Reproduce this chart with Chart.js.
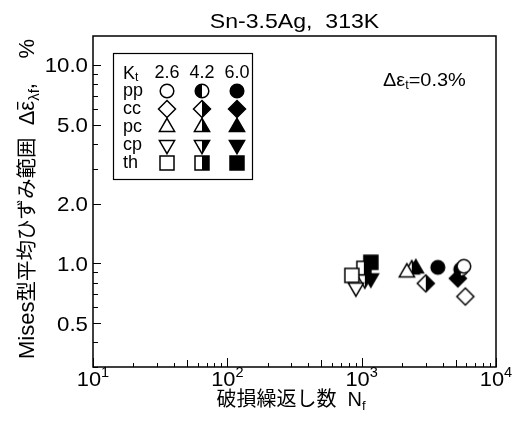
<!DOCTYPE html>
<html>
<head>
<meta charset="utf-8">
<script src="https://cdn.jsdelivr.net/npm/chart.js@4.4.1/dist/chart.umd.min.js"></script>
<style>
  html, body { margin: 0; padding: 0; background: #fff; }
  #wrap { width: 522px; height: 428px; }
</style>
</head>
<body>
<div id="wrap"><canvas id="chart"></canvas></div>
<script>
// stress concentration factors and test types
const ktLabels = ['2.6', '4.2', '6.0'];
const typeLabels = ['pp', 'cc', 'pc', 'cp', 'th'];
const typeShapes = ['circle', 'diamond', 'triUp', 'triDown', 'square'];

// cycles to failure Nf and Mises mean strain range (%), one value per Kt
const nfPP = [5760, 5470, 3690];
const dePP = [0.966, 0.932, 0.954];
const nfCC = [5910, 3000, 5200];
const deCC = [0.680, 0.792, 0.839];
const nfPC = [2170, 2360, 2530];
const dePC = [0.900, 0.932, 0.943];
const nfCP = [906, 1056, 1170];
const deCP = [0.755, 0.829, 0.839];
const nfTH = [845, 1038, 1170];
const deTH = [0.869, 0.943, 1.012];

const xTicks = [10, 100, 1000, 10000];
const yTicks = [0.5, 1, 2, 5, 10];

const nfAll = [nfPP, nfCC, nfPC, nfCP, nfTH];
const deAll = [dePP, deCC, dePC, deCP, deTH];
const fills = ['open', 'half', 'full'];

const LATIN = '"Liberation Sans", Arial, sans-serif';
const CJK = '"Liberation Sans", "Noto Sans CJK JP", sans-serif';

function shapePath(ctx, shape, cx, cy) {
  ctx.beginPath();
  if (shape === 'circle') {
    ctx.arc(cx, cy, 6.8, 0, Math.PI * 2);
  } else if (shape === 'square') {
    ctx.rect(cx - 7, cy - 7, 14, 14);
  } else if (shape === 'diamond') {
    ctx.moveTo(cx, cy - 8.5); ctx.lineTo(cx + 8.5, cy);
    ctx.lineTo(cx, cy + 8.5); ctx.lineTo(cx - 8.5, cy);
  } else if (shape === 'triUp') {
    ctx.moveTo(cx, cy - 8.7); ctx.lineTo(cx + 7.6, cy + 4.4); ctx.lineTo(cx - 7.6, cy + 4.4);
  } else {
    ctx.moveTo(cx, cy + 8.7); ctx.lineTo(cx + 7.6, cy - 4.4); ctx.lineTo(cx - 7.6, cy - 4.4);
  }
  ctx.closePath();
}

function makeMarker(shape, fill) {
  const cv = document.createElement('canvas');
  cv.width = 24; cv.height = 24;
  const ctx = cv.getContext('2d');
  const c = 12;
  shapePath(ctx, shape, c, c);
  ctx.fillStyle = fill === 'full' ? '#000' : '#fff';
  ctx.fill();
  if (fill === 'half') {
    ctx.save();
    ctx.beginPath();
    if (shape === 'circle') ctx.rect(0, 0, c, 24);
    else ctx.rect(c, 0, 12, 24);
    ctx.clip();
    shapePath(ctx, shape, c, c);
    ctx.fillStyle = '#000';
    ctx.fill();
    ctx.restore();
    shapePath(ctx, shape, c, c);
  }
  ctx.lineWidth = 1.5;
  ctx.strokeStyle = '#000';
  ctx.stroke();
  return cv;
}

const markers = typeShapes.map(s => fills.map(f => makeMarker(s, f)));

let datasets = [];
ktLabels.forEach((kt, k) => {
  typeLabels.forEach((t, i) => {
    datasets.push({
      label: t + ' Kt=' + kt,
      data: [{ x: nfAll[i][k], y: deAll[i][k] }],
      pointStyle: markers[i][k],
      pointRadius: 8,
      showLine: false
    });
  });
});

// text helper with optional sub/superscript parts and horizontal stretch
function richText(ctx, x, y, parts, align, sx) {
  sx = sx || 1;
  let total = 0;
  parts.forEach(p => { ctx.font = p.font; total += ctx.measureText(p.text).width; });
  ctx.save();
  ctx.translate(x, y);
  ctx.scale(sx, 1);
  let cx = align === 'center' ? -total / 2 : 0;
  parts.forEach(p => {
    ctx.font = p.font;
    ctx.fillText(p.text, cx, p.dy || 0);
    const w = ctx.measureText(p.text).width;
    if (p.bar) {
      ctx.fillRect(cx + 1, -17, w - 2, 1.3);
    }
    cx += w;
  });
  ctx.restore();
}

const decorPlugin = {
  id: 'decor',
  afterDraw(chart) {
    const ctx = chart.ctx;
    const a = chart.chartArea;
    const xs = chart.scales.x, ys = chart.scales.y;
    ctx.save();
    ctx.fillStyle = '#000';
    ctx.strokeStyle = '#000';

    // frame
    ctx.lineWidth = 1.5;
    ctx.strokeRect(a.left, a.top, a.right - a.left, a.bottom - a.top);

    // x ticks (inward)
    ctx.lineWidth = 1;
    for (let d = 10; d < 10000; d *= 10) {
      for (let m = 1; m <= 10; m++) {
        const v = d * m;
        const px = Math.round(xs.getPixelForValue(v)) + 0.5;
        const len = (m === 1 || m === 10) ? 9 : (m === 5 ? 7 : 4);
        ctx.beginPath(); ctx.moveTo(px, a.bottom); ctx.lineTo(px, a.bottom - len); ctx.stroke();
      }
    }
    // y ticks (inward)
    for (let d = 0.1; d < 100; d *= 10) {
      for (let m = 1; m < 10; m++) {
        const v = +(d * m).toPrecision(3);
        if (v < ys.min || v > ys.max) continue;
        const py = Math.round(ys.getPixelForValue(v)) + 0.5;
        const len = yTicks.includes(v) ? 8 : 5;
        ctx.beginPath(); ctx.moveTo(a.left, py); ctx.lineTo(a.left + len, py); ctx.stroke();
      }
    }

    // y tick labels
    ctx.textAlign = 'left';
    ctx.textBaseline = 'alphabetic';
    yTicks.forEach(v => {
      ctx.font = '21px ' + LATIN;
      const w = ctx.measureText(v.toFixed(1)).width * 1.06;
      richText(ctx, a.left - 5 - w, ys.getPixelForValue(v) + 7.5, [
        { text: v.toFixed(1), font: '21px ' + LATIN }
      ], 'left', 1.06);
    });

    // x tick labels 10^n
    xTicks.forEach(v => {
      const n = Math.round(Math.log10(v));
      richText(ctx, xs.getPixelForValue(v), 386, [
        { text: '10', font: '21px ' + LATIN },
        { text: String(n), font: '14px ' + LATIN, dy: -9 }
      ], 'center', 1.04);
    });

    // title
    richText(ctx, (a.left + a.right) / 2, 28, [
      { text: 'Sn-3.5Ag,  313K', font: '21px ' + LATIN }
    ], 'center', 1.1);

    // x axis title
    richText(ctx, 291, 406, [
      { text: '破損繰返し数  N', font: '20px ' + CJK },
      { text: 'f', font: '13px ' + LATIN, dy: 4 }
    ], 'center');

    // y axis title (rotated)
    ctx.save();
    ctx.translate(34, 359);
    ctx.rotate(-Math.PI / 2);
    richText(ctx, 0, 0, [
      { text: 'Mises', font: '22px ' + LATIN },
      { text: '型平均ひずみ範囲', font: '20.5px ' + CJK },
      { text: '  Δ', font: '22px ' + LATIN },
      { text: 'ε', font: '22px ' + LATIN, bar: true },
      { text: 'λf', font: '15px ' + LATIN, dy: 5 },
      { text: ',    %', font: '22px ' + LATIN }
    ], 'left');
    ctx.restore();

    // strain range note
    richText(ctx, 383, 86, [
      { text: 'Δε', font: '19px ' + LATIN },
      { text: 't', font: '12px ' + LATIN, dy: 3 },
      { text: '=0.3%', font: '19px ' + LATIN }
    ], 'left', 1.05);

    // legend table
    const lx = 113, ly = 53, lw = 139, lh = 126;
    ctx.lineWidth = 1.2;
    ctx.strokeRect(lx + 0.5, ly + 0.5, lw, lh);
    const colX = [167, 202, 237];
    const rowY = [91, 109, 127, 145, 163];
    ctx.textBaseline = 'middle';
    richText(ctx, 123, 74, [
      { text: 'K', font: '18px ' + LATIN },
      { text: 't', font: '12px ' + LATIN, dy: 4 }
    ], 'left');
    ctx.font = '18px ' + LATIN;
    ctx.textAlign = 'center';
    ktLabels.forEach((kt, k) => ctx.fillText(kt, colX[k], 73));
    ctx.textAlign = 'left';
    typeLabels.forEach((t, i) => {
      ctx.fillText(t, 123, rowY[i]);
      ktLabels.forEach((kt, k) => {
        const m = markers[i][k];
        ctx.drawImage(m, colX[k] - m.width / 2, rowY[i] - m.height / 2);
      });
    });
    ctx.restore();
  }
};

new Chart(document.getElementById('chart'), {
  type: 'scatter',
  data: { datasets: datasets },
  options: {
    responsive: true,
    maintainAspectRatio: false,
    animation: false,
    layout: { padding: { top: 36, right: 26, left: 0, bottom: 0 } },
    plugins: { legend: { display: false }, tooltip: { enabled: false } },
    scales: {
      x: {
        type: 'logarithmic', min: 10, max: 10000,
        ticks: { display: false }, grid: { display: false }, border: { display: false },
        afterFit(scale) { scale.height = 61; }
      },
      y: {
        type: 'logarithmic', min: 0.3, max: 14,
        ticks: { display: false }, grid: { display: false }, border: { display: false },
        afterFit(scale) { scale.width = 93; }
      }
    }
  },
  plugins: [decorPlugin]
});
</script>
</body>
</html>
